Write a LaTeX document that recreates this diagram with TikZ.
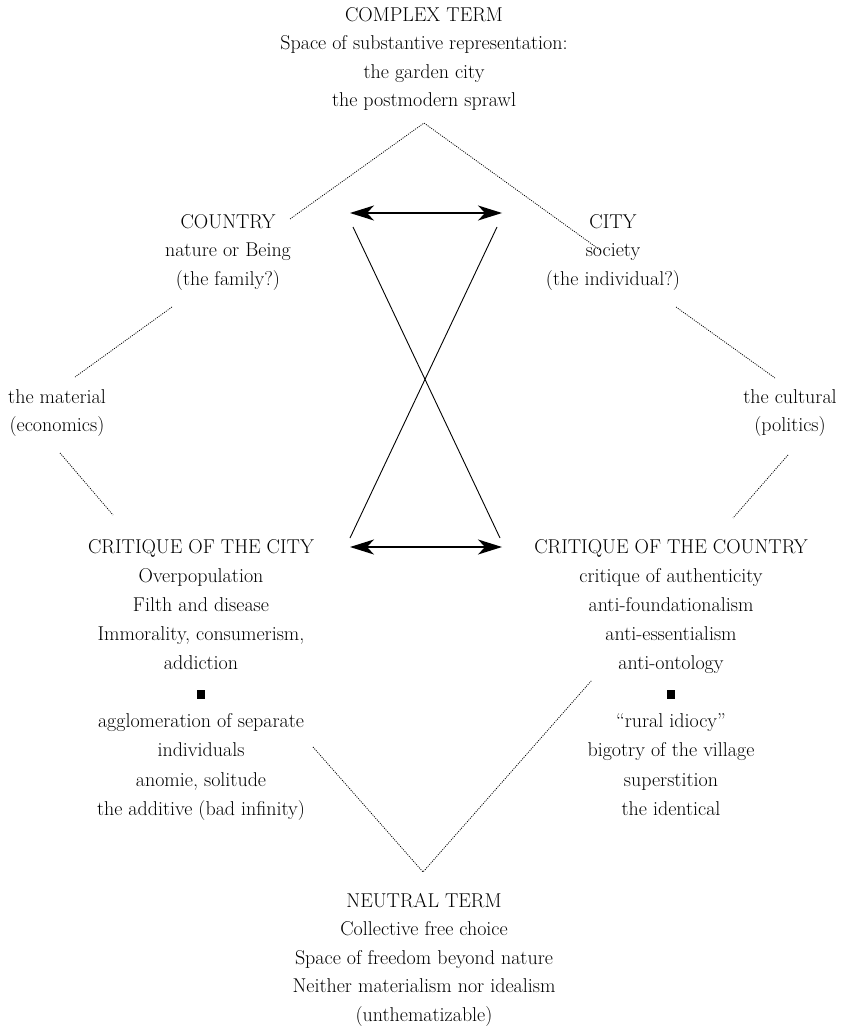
\documentclass[tikz,border=0pt]{standalone}
\usetikzlibrary{arrows.meta}
\newcommand\firstln{\rule{0pt}{16pt}}
\newcommand\blk{\rule[0pt]{8.5pt}{8.5pt}}
\begin{document}
\begin{tikzpicture}[x=1pt,y=-1pt,
  txt/.style={font=\fontsize{20}{28.5}\selectfont, align=center, inner sep=0pt, anchor=north},
  txtb/.style={txt, font=\fontsize{20}{29.1}\selectfont},
  dotline/.style={line width=0.8pt, dash pattern=on 1pt off 1.2pt},
  solidline/.style={line width=0.9pt},
  dbl/.style={line width=1.2pt, {Stealth[length=24pt,width=15pt,inset=7pt]}-{Stealth[length=24pt,width=15pt,inset=7pt]}}]
\path[use as bounding box] (0,0) rectangle (850,1032);

\node[txt] (complex) at (424,5) {\firstln COMPLEX TERM\\Space of substantive representation:\\the garden city\\the postmodern sprawl};
\node[txt] (country) at (228,212) {\firstln COUNTRY\\nature or Being\\(the family?)};
\node[txt] (city) at (613,212) {\firstln CITY\\society\\(the individual?)};
\node[txt] (material) at (57,387) {\firstln the material\\(economics)};
\node[txt] (cultural) at (790,387) {\firstln the cultural\\(politics)};
\node[txtb] (critcity) at (201,537) {\firstln CRITIQUE OF THE CITY\\Overpopulation\\Filth and disease\\Immorality, consumerism,\\addiction\\\blk\\agglomeration of separate\\individuals\\anomie, solitude\\the additive (bad infinity)};
\node[txtb] (critcountry) at (671,537) {\firstln CRITIQUE OF THE COUNTRY\\critique of authenticity\\anti-foundationalism\\anti-essentialism\\anti-ontology\\\blk\\``rural idiocy''\\bigotry of the village\\superstition\\the identical};
\node[txt] (neutral) at (424,891) {\firstln NEUTRAL TERM\\Collective free choice\\Space of freedom beyond nature\\Neither materialism nor idealism\\(unthematizable)};

% dotted connectors
\coordinate (apex) at (424,123);
\coordinate (tl) at (290,219);
\coordinate (tr) at (600,250);
\coordinate (ul1) at (172,307);
\coordinate (ul2) at (75,377);
\coordinate (ll1) at (60,453);
\coordinate (ll2) at (113,515);
\coordinate (ur1) at (676,307);
\coordinate (ur2) at (775,378);
\coordinate (lr1) at (788,455);
\coordinate (lr2) at (733,518);
\coordinate (bl) at (313,747);
\coordinate (vap) at (423,872);
\coordinate (br) at (592,680);
\draw[dotline] (tl) -- (apex) -- (tr);
\draw[dotline] (ul1) -- (ul2);
\draw[dotline] (ll1) -- (ll2);
\draw[dotline] (ur1) -- (ur2);
\draw[dotline] (lr1) -- (lr2);
\draw[dotline] (bl) -- (vap) -- (br);

% solid connectors
\coordinate (a1) at (353,227);
\coordinate (a2) at (500,538);
\coordinate (b1) at (497,227);
\coordinate (b2) at (350,538);
\draw[solidline] (a1) -- (a2);
\draw[solidline] (b1) -- (b2);
\coordinate (ta1) at (350,213);
\coordinate (ta2) at (502,213);
\coordinate (ba1) at (350,547);
\coordinate (ba2) at (502,547);
\draw[dbl] (ta1) -- (ta2);
\draw[dbl] (ba1) -- (ba2);
\end{tikzpicture}
\end{document}
